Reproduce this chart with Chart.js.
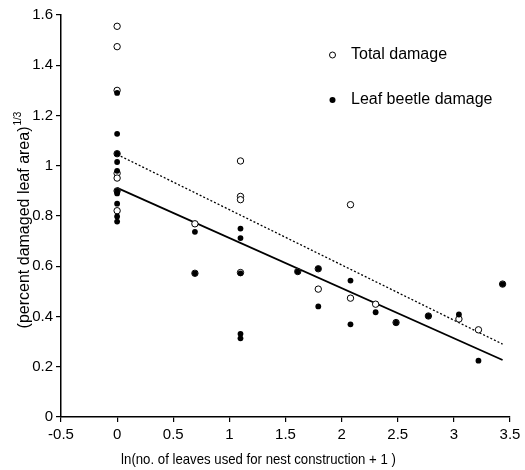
<!DOCTYPE html>
<html>
<head>
<meta charset="utf-8">
<script src="https://cdn.jsdelivr.net/npm/chart.js@4/dist/chart.umd.min.js"></script>
<style>
html,body{margin:0;padding:0;background:#fff;}
#wrap{width:525px;height:470px;position:relative;}
</style>
</head>
<body>
<div id="wrap"><canvas id="c" width="525" height="470"></canvas></div>
<script>
// Data
const totalX = [0, 0, 0, 0, 0, 0, 0, 0, 0.693, 0.693, 1.099, 1.099, 1.099, 1.099, 1.609, 1.792, 1.792, 2.079, 2.079, 2.303, 2.485, 2.773, 3.045, 3.219, 3.434];
const totalY = [1.555, 1.474, 1.30, 1.048, 0.97, 0.951, 0.90, 0.821, 0.769, 0.572, 1.019, 0.878, 0.865, 0.575, 0.579, 0.590, 0.509, 0.845, 0.473, 0.449, 0.376, 0.402, 0.390, 0.347, 0.529];
const beetleX = [0, 0, 0, 0, 0, 0, 0, 0, 0, 0, 0.693, 0.693, 1.099, 1.099, 1.099, 1.099, 1.099, 1.609, 1.792, 1.792, 2.079, 2.079, 2.303, 2.485, 2.773, 3.045, 3.219, 3.434];
const beetleY = [1.29, 1.127, 1.048, 1.015, 0.98, 0.90, 0.89, 0.849, 0.798, 0.778, 0.737, 0.572, 0.750, 0.712, 0.572, 0.331, 0.313, 0.579, 0.590, 0.440, 0.543, 0.369, 0.417, 0.376, 0.402, 0.408, 0.224, 0.529];
// regression lines (end points)
const totalFitX = [0, 3.434];
const totalFitY = [1.045, 0.29];
const beetleFitX = [0, 3.434];
const beetleFitY = [0.912, 0.227];
const xTicks = [-0.5, 0, 0.5, 1, 1.5, 2, 2.5, 3, 3.5];
const yTicks = [0, 0.2, 0.4, 0.6, 0.8, 1, 1.2, 1.4, 1.6];
const legendLabels = ["Total damage", "Leaf beetle damage"];
const xTitle = "ln(no. of leaves used for nest construction + 1 )";
const yTitleMain = "(percent damaged leaf area)";
const yTitleSup = "1/3";

const FONT = "'Liberation Sans', Arial, Helvetica, sans-serif";

function pts(xs, ys){ return xs.map((x,i)=>({x:x, y:ys[i]})); }
function fmt(v){ return String(Number(v.toFixed(2))); }

const annot = {
  id: 'annot',
  afterDraw(chart){
    const ctx = chart.ctx;
    ctx.save();
    ctx.fillStyle = '#000';
    // x title (slightly condensed, as in the reference)
    ctx.save();
    ctx.translate(258.5, 460);
    ctx.scale(0.88, 1);
    ctx.font = "15px " + FONT;
    ctx.textAlign = 'center';
    ctx.textBaseline = 'middle';
    ctx.fillText(xTitle, 0, 0);
    ctx.restore();
    // y title with superscript
    ctx.translate(23, 220);
    ctx.rotate(-Math.PI/2);
    ctx.font = "16px " + FONT;
    const w1 = ctx.measureText(yTitleMain).width;
    ctx.font = "10px " + FONT;
    const w2 = ctx.measureText(yTitleSup).width;
    const tot = w1 + w2 + 1;
    ctx.textAlign = 'left';
    ctx.textBaseline = 'alphabetic';
    ctx.font = "16px " + FONT;
    ctx.fillText(yTitleMain, -tot/2, 5.5);
    ctx.font = "10px " + FONT;
    ctx.fillText(yTitleSup, -tot/2 + w1 + 1, -2);
    ctx.restore();
    // legend
    ctx.save();
    ctx.font = "16px " + FONT;
    ctx.textAlign = 'left';
    ctx.textBaseline = 'middle';
    ctx.beginPath();
    ctx.arc(332.5, 55, 3, 0, Math.PI*2);
    ctx.fillStyle = '#fff';
    ctx.fill();
    ctx.lineWidth = 1;
    ctx.strokeStyle = '#000';
    ctx.stroke();
    ctx.fillStyle = '#000';
    ctx.fillText(legendLabels[0], 351, 55);
    ctx.beginPath();
    ctx.arc(332.5, 100, 3, 0, Math.PI*2);
    ctx.fill();
    ctx.fillText(legendLabels[1], 351, 100);
    ctx.restore();
  }
};

new Chart(document.getElementById('c'), {
  type: 'scatter',
  data: {
    datasets: [
      { label: legendLabels[1], data: pts(beetleX, beetleY), backgroundColor: '#000', borderWidth: 0, pointRadius: 2.9, pointHoverRadius: 2.9 },
      { label: legendLabels[0], data: pts(totalX, totalY), backgroundColor: '#fff', borderColor: '#000', borderWidth: 1, pointRadius: 3.2, pointHoverRadius: 3.2 },
      { label: 'fitTotal', data: pts(totalFitX, totalFitY), showLine: true, borderColor: '#000', borderWidth: 1.3, borderDash: [2,2], pointRadius: 0, fill: false },
      { label: 'fitBeetle', data: pts(beetleFitX, beetleFitY), showLine: true, borderColor: '#000', borderWidth: 1.8, pointRadius: 0, fill: false }
    ]
  },
  options: {
    responsive: false,
    animation: false,
    events: [],
    layout: { padding: { left: 0, right: 15, top: 15, bottom: 0 } },
    plugins: { legend: { display: false }, tooltip: { enabled: false } },
    scales: {
      x: {
        type: 'linear', min: -0.5, max: 3.5,
        afterBuildTicks(s){ s.ticks = xTicks.map(v=>({value:v})); },
        afterFit(s){ s.height = 53; },
        grid: { display: true, drawOnChartArea: false, drawTicks: true, tickLength: 5, color: '#000', lineWidth: 1.2 },
        border: { display: true, color: '#000', width: 1.5 },
        ticks: { color: '#000', font: { family: FONT, size: 15 }, padding: 4, callback: v => fmt(v), maxRotation: 0, autoSkip: false }
      },
      y: {
        type: 'linear', min: 0, max: 1.6,
        afterBuildTicks(s){ s.ticks = yTicks.map(v=>({value:v})); },
        afterFit(s){ s.width = 61; },
        grid: { display: true, drawOnChartArea: false, drawTicks: true, tickLength: 5, color: '#000', lineWidth: 1.2 },
        border: { display: true, color: '#000', width: 1.5 },
        ticks: { color: '#000', font: { family: FONT, size: 15 }, padding: 3, callback: v => fmt(v), autoSkip: false }
      }
    }
  },
  plugins: [annot]
});
</script>
</body>
</html>
